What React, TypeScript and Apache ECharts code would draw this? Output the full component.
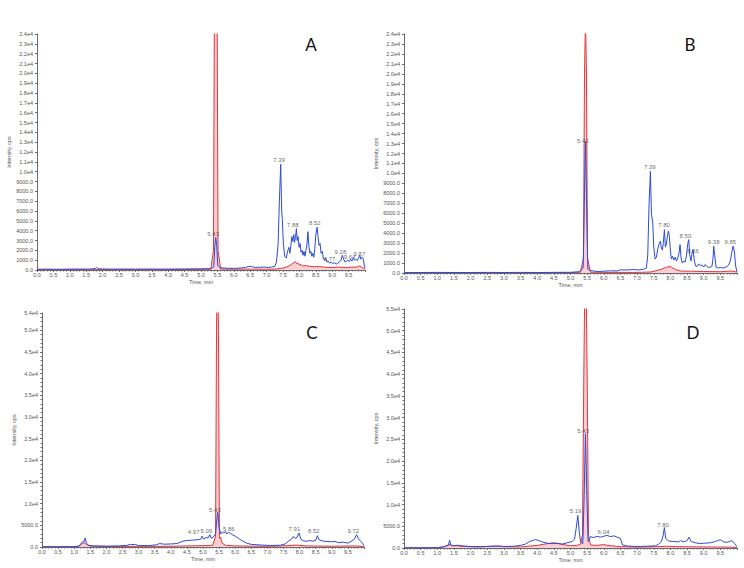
import React, { useEffect, useRef } from "react";
import * as echarts from "echarts";

// ---------- data (time in min, intensity in cps) ----------
const blueA: [number, number][] = [
  [0, 80], [0.3, 90], [0.6, 70], [1.0, 90], [1.3, 100], [1.6, 90], [1.78, 150], [1.82, 280], [1.86, 120], [2.2, 90], [2.6, 100], [3.0, 90], [3.4, 100], [3.8, 90], [4.2, 100], [4.6, 110], [5.0, 120], [5.3, 140], [5.39, 350], [5.42, 2400], [5.45, 3300], [5.48, 2500], [5.51, 500], [5.58, 220], [5.8, 180], [6.0, 160], [6.2, 200], [6.35, 250], [6.45, 360], [6.55, 340], [6.65, 260], [6.8, 280], [6.95, 300], [7.05, 250], [7.15, 300], [7.25, 350], [7.3, 800], [7.35, 2600], [7.39, 7000], [7.43, 10750], [7.46, 6000], [7.48, 5100], [7.51, 2800], [7.55, 1400], [7.6, 1200], [7.64, 1900], [7.68, 2300], [7.71, 1700], [7.74, 2500], [7.77, 3400], [7.8, 2900], [7.83, 3600], [7.85, 2800], [7.88, 3300], [7.91, 4200], [7.93, 3000], [7.96, 3400], [7.99, 2300], [8.02, 2700], [8.05, 1800], [8.08, 2000], [8.11, 1500], [8.14, 1900], [8.17, 1400], [8.2, 2000], [8.23, 2600], [8.26, 3900], [8.29, 2400], [8.32, 1700], [8.35, 1900], [8.38, 1400], [8.41, 1700], [8.44, 1300], [8.47, 2200], [8.5, 3600], [8.54, 4350], [8.57, 3300], [8.6, 2500], [8.63, 2700], [8.66, 1700], [8.7, 1900], [8.73, 1100], [8.77, 1000], [8.8, 1200], [8.84, 800], [8.88, 900], [8.92, 700], [8.97, 800], [9.02, 650], [9.07, 750], [9.12, 600], [9.17, 700], [9.22, 800], [9.27, 1000], [9.31, 1500], [9.35, 1100], [9.39, 800], [9.44, 900], [9.48, 1000], [9.52, 850], [9.56, 1100], [9.6, 900], [9.64, 1200], [9.68, 1000], [9.72, 1100], [9.76, 950], [9.8, 1200], [9.84, 1500], [9.87, 1100], [9.91, 1300], [9.95, 1100], [9.98, 400], [10, 200],
];
const redA: [number, number][] = [
  [0, 20], [0.5, 30], [1.0, 40], [1.5, 30], [2.0, 40], [2.5, 30], [3.0, 40], [3.5, 30], [4.0, 40], [4.5, 50], [5.0, 60], [5.3, 80], [5.38, 2000], [5.41, 28000], [5.45, 45000], [5.49, 28000], [5.52, 2000], [5.6, 100], [6.0, 80], [6.5, 90], [7.0, 80], [7.3, 100], [7.5, 200], [7.65, 350], [7.75, 550], [7.83, 750], [7.88, 850], [7.92, 650], [7.96, 700], [8.0, 500], [8.05, 550], [8.1, 420], [8.2, 450], [8.3, 380], [8.45, 330], [8.6, 350], [8.8, 280], [9.0, 250], [9.2, 300], [9.4, 250], [9.6, 280], [9.75, 300], [9.84, 420], [9.9, 280], [10, 100],
];
const blueB: [number, number][] = [
  [0, 40], [0.5, 50], [1.0, 60], [1.5, 50], [2.0, 50], [2.5, 60], [3.0, 50], [3.5, 60], [4.0, 50], [4.5, 60], [5.0, 70], [5.25, 120], [5.32, 300], [5.38, 500], [5.42, 8000], [5.45, 13200], [5.48, 7500], [5.52, 400], [5.6, 250], [5.8, 150], [6.0, 180], [6.2, 220], [6.4, 200], [6.5, 320], [6.7, 300], [6.9, 350], [7.05, 300], [7.2, 380], [7.28, 500], [7.32, 1800], [7.36, 7000], [7.4, 10200], [7.43, 6000], [7.47, 5000], [7.5, 2600], [7.54, 1400], [7.58, 1600], [7.62, 2400], [7.66, 2900], [7.7, 3200], [7.73, 2500], [7.76, 2300], [7.79, 3100], [7.82, 4350], [7.85, 2600], [7.88, 2900], [7.91, 3700], [7.94, 4200], [7.97, 3700], [8.0, 2200], [8.03, 1400], [8.06, 1700], [8.1, 1300], [8.14, 1600], [8.18, 1200], [8.22, 1500], [8.26, 2000], [8.29, 2850], [8.32, 1500], [8.36, 1000], [8.4, 1200], [8.44, 1100], [8.48, 1700], [8.52, 2900], [8.55, 3350], [8.58, 1800], [8.62, 1200], [8.65, 2000], [8.68, 2350], [8.72, 1200], [8.76, 700], [8.8, 650], [8.85, 900], [8.9, 750], [8.95, 800], [9.0, 600], [9.05, 850], [9.1, 650], [9.15, 550], [9.2, 600], [9.25, 700], [9.28, 1500], [9.3, 2700], [9.33, 1800], [9.37, 600], [9.42, 500], [9.5, 550], [9.6, 500], [9.7, 650], [9.75, 800], [9.8, 1200], [9.84, 2000], [9.88, 2700], [9.92, 2200], [9.96, 700], [10, 100],
];
const redB: [number, number][] = [
  [0, 20], [1, 30], [2, 30], [3, 20], [4, 30], [5, 40], [5.3, 80], [5.39, 1500], [5.42, 20000], [5.45, 25500], [5.48, 20000], [5.51, 1500], [5.6, 80], [6, 60], [7, 60], [7.4, 100], [7.6, 250], [7.75, 400], [7.85, 550], [7.92, 600], [8.0, 680], [8.05, 550], [8.15, 350], [8.3, 200], [8.6, 180], [9, 150], [9.5, 130], [9.85, 200], [10, 80],
];
const blueC: [number, number][] = [
  [0, 50], [0.5, 60], [1.0, 80], [1.15, 200], [1.22, 900], [1.27, 1300], [1.3, 1100], [1.34, 2100], [1.38, 900], [1.45, 400], [1.6, 250], [2.0, 200], [2.4, 250], [2.65, 400], [2.75, 600], [2.9, 550], [3.0, 350], [3.3, 300], [3.55, 500], [3.65, 800], [3.8, 650], [4.0, 700], [4.2, 800], [4.35, 1300], [4.5, 1500], [4.7, 1600], [4.85, 1700], [4.93, 1800], [4.97, 2500], [5.02, 1800], [5.1, 2200], [5.16, 2100], [5.21, 2850], [5.26, 2000], [5.32, 2300], [5.39, 3000], [5.43, 6500], [5.46, 8000], [5.5, 4500], [5.55, 3000], [5.6, 3500], [5.65, 3200], [5.7, 3600], [5.74, 3000], [5.8, 3400], [5.86, 3100], [5.92, 2800], [6.0, 2500], [6.1, 2000], [6.2, 1500], [6.35, 900], [6.5, 600], [6.8, 450], [7.1, 350], [7.4, 400], [7.55, 700], [7.65, 1300], [7.75, 1800], [7.8, 2400], [7.86, 2000], [7.92, 2200], [7.98, 3250], [8.04, 1800], [8.1, 1500], [8.2, 1300], [8.3, 1500], [8.4, 1350], [8.5, 1500], [8.55, 2600], [8.6, 1700], [8.7, 1400], [8.8, 1300], [9.0, 1200], [9.1, 1300], [9.2, 1000], [9.35, 1100], [9.5, 900], [9.6, 1300], [9.7, 1800], [9.77, 2850], [9.83, 1900], [9.9, 1300], [9.95, 900], [10, 300],
];
const redC: [number, number][] = [
  [0, 30], [1.0, 50], [1.15, 200], [1.25, 800], [1.32, 950], [1.4, 500], [1.5, 200], [2, 120], [3, 150], [4, 180], [4.5, 250], [5.0, 300], [5.3, 400], [5.39, 2500], [5.42, 50000], [5.45, 70000], [5.48, 50000], [5.51, 2000], [5.55, 2300], [5.59, 900], [5.7, 400], [6, 250], [7, 150], [7.6, 300], [7.9, 450], [8.2, 250], [9, 180], [9.7, 250], [10, 120],
];
const blueD: [number, number][] = [
  [0, 40], [0.5, 50], [1.0, 60], [1.15, 200], [1.25, 400], [1.33, 600], [1.37, 1800], [1.41, 600], [1.5, 500], [1.6, 650], [1.8, 450], [2.0, 350], [2.3, 300], [2.6, 380], [2.8, 450], [3.0, 350], [3.3, 400], [3.5, 600], [3.65, 900], [3.75, 1400], [3.85, 1700], [3.95, 1950], [4.05, 1700], [4.15, 1400], [4.3, 1100], [4.45, 1000], [4.6, 1100], [4.75, 900], [4.9, 1200], [5.05, 1500], [5.12, 2000], [5.17, 4500], [5.22, 7500], [5.26, 4000], [5.3, 1500], [5.37, 1000], [5.41, 12000], [5.45, 26300], [5.49, 12000], [5.53, 1500], [5.6, 2600], [5.7, 2400], [5.8, 2700], [5.9, 2500], [6.0, 2700], [6.1, 2900], [6.2, 2600], [6.3, 2800], [6.4, 2500], [6.5, 2200], [6.56, 700], [6.7, 450], [7.0, 350], [7.3, 400], [7.55, 500], [7.65, 900], [7.73, 1500], [7.78, 2800], [7.82, 4700], [7.86, 2200], [7.95, 1600], [8.1, 1500], [8.25, 1400], [8.3, 1700], [8.4, 1400], [8.5, 1700], [8.56, 2500], [8.62, 1500], [8.75, 1200], [8.9, 1000], [9.0, 1100], [9.2, 1200], [9.35, 1500], [9.45, 1800], [9.5, 1900], [9.6, 1400], [9.7, 1300], [9.78, 1500], [9.85, 1700], [9.93, 1000], [10, 300],
];
const redD: [number, number][] = [
  [0, 20], [1.0, 50], [1.2, 300], [1.35, 800], [1.45, 600], [1.6, 500], [1.8, 350], [2.2, 250], [2.6, 400], [2.8, 450], [3.0, 300], [3.5, 250], [4.0, 600], [4.3, 1000], [4.5, 1200], [4.7, 900], [5.0, 500], [5.2, 600], [5.3, 900], [5.36, 3000], [5.4, 40000], [5.45, 75000], [5.5, 40000], [5.54, 3000], [5.6, 700], [5.8, 600], [6.0, 800], [6.1, 600], [6.5, 300], [7.0, 200], [7.6, 300], [7.9, 400], [8.2, 300], [9.0, 250], [9.8, 200], [10, 100],
];

// peak annotations: [time, intensity, label]
const peaksA: [number, number, string][] = [
  [5.37, 3300, "5.43"], [7.38, 10750, "7.39"], [7.8, 4200, "7.88"], [8.47, 4350, "8.52"], [8.92, 700, "8.77"], [9.25, 1450, "9.28"], [9.53, 900, "9.64"], [9.83, 1200, "9.87"],
];
const peaksB: [number, number, string][] = [
  [5.37, 12900, "5.43"], [7.38, 10200, "7.39"], [7.81, 4400, "7.80"], [8.45, 3350, "8.50"], [8.68, 1850, "8.66"], [9.3, 2700, "9.38"], [9.8, 2700, "9.85"],
];
const peaksC: [number, number, string][] = [
  [4.71, 2600, "4.97"], [5.1, 2800, "5.09"], [5.37, 7700, "5.43"], [5.8, 3300, "5.86"], [7.84, 3300, "7.91"], [8.44, 2700, "8.52"], [9.67, 2800, "9.72"],
];
const peaksD: [number, number, string][] = [
  [5.15, 7500, "5.19"], [5.38, 25900, "5.43"], [5.99, 2850, "6.04"], [7.78, 4450, "7.80"],
];

// axis ranges
const yMaxes = [24000, 24000, 54000, 55000];
const yIntervals = [1000, 1000, 5000, 5000];
const panelLetters = ["A", "B", "C", "D"];

const BLUE = "#2c4bd6";
const RED = "#e2363c";
const PINK = "rgba(238,118,128,0.5)";
const AXIS = "#6b6b6b";
const LABEL = "#555";
const FONT = "Liberation Sans";

export default function App() {
  const ref = useRef<HTMLDivElement>(null);
  useEffect(() => {
    document.body.style.margin = "0";
    const chart = echarts.init(ref.current!, null, { renderer: "svg" });
    const grids = [
      { left: 37, top: 34, width: 328, height: 236 },
      { left: 404, top: 34, width: 333, height: 239 },
      { left: 42, top: 313, width: 322, height: 234 },
      { left: 404, top: 309, width: 333, height: 239 },
    ];
    const yFmt = (v: number) => {
      if (v === 0) return "0.0";
      if (v < 10000) return v.toFixed(1);
      return (v / 10000).toFixed(1) + "e4";
    };
    const xAxis = grids.map((_, i) => ({
      type: "value",
      gridIndex: i,
      min: 0,
      max: 10,
      interval: 0.5,
      name: "Time, min",
      nameLocation: "middle",
      nameGap: 9,
      nameTextStyle: { fontSize: 5.5, color: LABEL, fontFamily: FONT },
      axisLine: { show: true, onZero: false, lineStyle: { color: AXIS, width: 1 } },
      axisTick: { show: true, length: 2, lineStyle: { color: AXIS } },
      minorTick: { show: true, splitNumber: 5, length: 1.5, lineStyle: { color: AXIS } },
      axisLabel: {
        fontSize: 5.5,
        color: LABEL,
        fontFamily: FONT,
        margin: 2,
        showMaxLabel: false,
        formatter: (v: number) => (v >= 10 ? "" : v.toFixed(1)),
      },
      splitLine: { show: false },
    }));
    const yAxis = grids.map((_, i) => ({
      type: "value",
      gridIndex: i,
      min: 0,
      max: yMaxes[i],
      interval: yIntervals[i],
      name: "Intensity, cps",
      nameLocation: "middle",
      nameGap: i < 2 ? 21 : 25,
      nameTextStyle: { fontSize: 5.5, color: LABEL, fontFamily: FONT },
      axisLine: { show: true, lineStyle: { color: AXIS, width: 1 } },
      axisTick: { show: true, length: 2, lineStyle: { color: AXIS } },
      minorTick: { show: i >= 2, splitNumber: 5, length: 1.5, lineStyle: { color: AXIS } },
      axisLabel: { fontSize: 5.5, color: LABEL, fontFamily: FONT, margin: 4, formatter: yFmt },
      splitLine: { show: false },
    }));
    const blues = [blueA, blueB, blueC, blueD];
    const reds = [redA, redB, redC, redD];
    const peaks = [peaksA, peaksB, peaksC, peaksD];
    const series: any[] = [];
    for (let i = 0; i < 4; i++) {
      series.push({
        type: "line",
        xAxisIndex: i,
        yAxisIndex: i,
        data: reds[i],
        showSymbol: false,
        lineStyle: { color: RED, width: 1 },
        areaStyle: { color: PINK, origin: "start" },
        clip: true,
        z: 2,
      });
      series.push({
        type: "line",
        xAxisIndex: i,
        yAxisIndex: i,
        data: blues[i],
        showSymbol: false,
        lineStyle: { color: BLUE, width: 1 },
        clip: true,
        z: 3,
      });
      series.push({
        type: "scatter",
        xAxisIndex: i,
        yAxisIndex: i,
        data: peaks[i],
        symbolSize: 0,
        silent: true,
        z: 4,
        label: {
          show: true,
          position: "top",
          distance: 1,
          fontSize: 6,
          color: "#444",
          fontFamily: FONT,
          formatter: (p: any) => p.value[2],
        },
      });
    }
    const letterPos = [
      [311, 44],
      [690, 44],
      [312, 332],
      [693, 332],
    ];
    chart.setOption({
      animation: false,
      backgroundColor: "#fff",
      grid: grids,
      xAxis,
      yAxis,
      series,
      graphic: panelLetters.map((t, i) => ({
        type: "text",
        x: letterPos[i][0],
        y: letterPos[i][1],
        style: {
          text: t,
          fontSize: 17,
          fontFamily: "Lato",
          fill: "#111",
          textAlign: "center",
          textVerticalAlign: "middle",
        },
      })),
    });
    return () => chart.dispose();
  }, []);
  return <div ref={ref} style={{ width: 744, height: 568 }} />;
}
